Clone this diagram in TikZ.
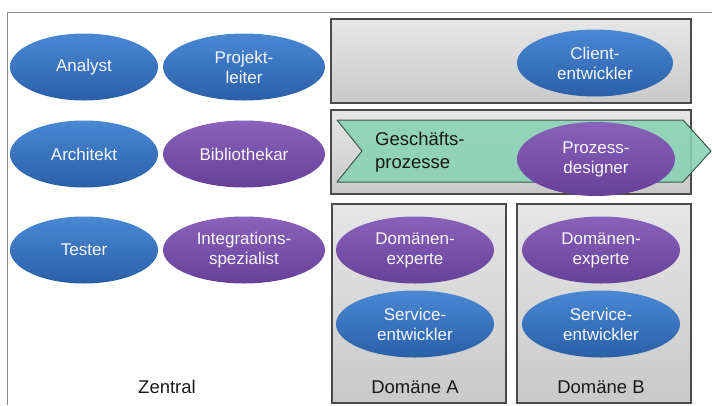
\documentclass[tikz,border=0pt]{standalone}
\usepackage{fontspec}
\setmainfont{Liberation Sans}
\usetikzlibrary{shapes.geometric}
\definecolor{bluetop}{HTML}{4A88D4}
\definecolor{bluebot}{HTML}{2A5FA8}
\definecolor{purtop}{HTML}{8A62BC}
\definecolor{purbot}{HTML}{67409A}
\definecolor{boxtop}{HTML}{E6E6E6}
\definecolor{boxbot}{HTML}{C9C9C9}
\definecolor{boxline}{HTML}{4A4A4A}
\definecolor{chevfill}{HTML}{88D3B5}
\definecolor{chevline}{HTML}{3C5A50}
\definecolor{frameline}{HTML}{8C8C8C}
\tikzset{
  role/.style={ellipse, inner sep=0pt, align=center, text=white!94!gray,
    font=\fontsize{17}{20}\selectfont, minimum width=#1},
  role/.default=150pt,
  bluerole/.style={role=#1, top color=bluetop, bottom color=bluebot, minimum height=67pt},
  bluerole/.default=150pt,
  purrole/.style={role=#1, top color=purtop, bottom color=purbot, minimum height=67pt},
  purrole/.default=150pt,
  area/.style={draw=boxline, line width=1.1pt, top color=boxtop, bottom color=boxbot},
  label/.style={font=\fontsize{18.5}{23}\selectfont, text=black!90, inner sep=0pt, align=left},
}
\begin{document}
\begin{tikzpicture}[x=1pt,y=-1pt]
\useasboundingbox (0,0) rectangle (712,405);
\fill[white] (0,0) rectangle (712,405);
% outer frame
\draw[frameline, line width=1pt] (7,405) -- (7,12) -- (712,12);
% areas
\draw[area] (331,19) rectangle (691,103);
\draw[area] (331,110) rectangle (691,194);
\draw[area] (332,204) rectangle (506,403);
\draw[area] (517,204) rectangle (691,403);
% chevron
\draw[chevline, line width=1pt, fill=chevfill, fill opacity=0.88, line join=round]
  (337,120) -- (683,120) -- (711,151) -- (683,182) -- (337,182) -- (362,151) -- cycle;
\node[label, anchor=west] (gp) at (375,152) {Geschäfts-\\prozesse};
% left roles
\node[bluerole=148pt] (analyst) at (84,67) {Analyst};
\node[bluerole=162pt] (pl) at (244,67) {Projekt-\\leiter};
\node[bluerole=148pt] (arch) at (84,154) {Architekt};
\node[purrole=162pt] (bib) at (244,154) {Bibliothekar};
\node[bluerole=148pt] (tester) at (84,250) {Tester};
\node[purrole=162pt] (int) at (244,250) {Integrations-\\spezialist};
\node[label] (zentral) at (167,387) {Zentral};
% right roles
\node[bluerole=156pt] (client) at (595,63) {Client-\\entwickler};
\node[purrole=158pt, minimum height=74pt] (pd) at (596,159) {Prozess-\\designer};
\node[purrole=158pt] (dea) at (415,250) {Domänen-\\experte};
\node[bluerole=158pt] (sea) at (415,324) {Service-\\entwickler};
\node[label] (doma) at (415,387) {Domäne A};
\node[purrole=158pt] (deb) at (601,250) {Domänen-\\experte};
\node[bluerole=158pt] (seb) at (601,324) {Service-\\entwickler};
\node[label] (domb) at (601,387) {Domäne B};
\end{tikzpicture}
\end{document}
